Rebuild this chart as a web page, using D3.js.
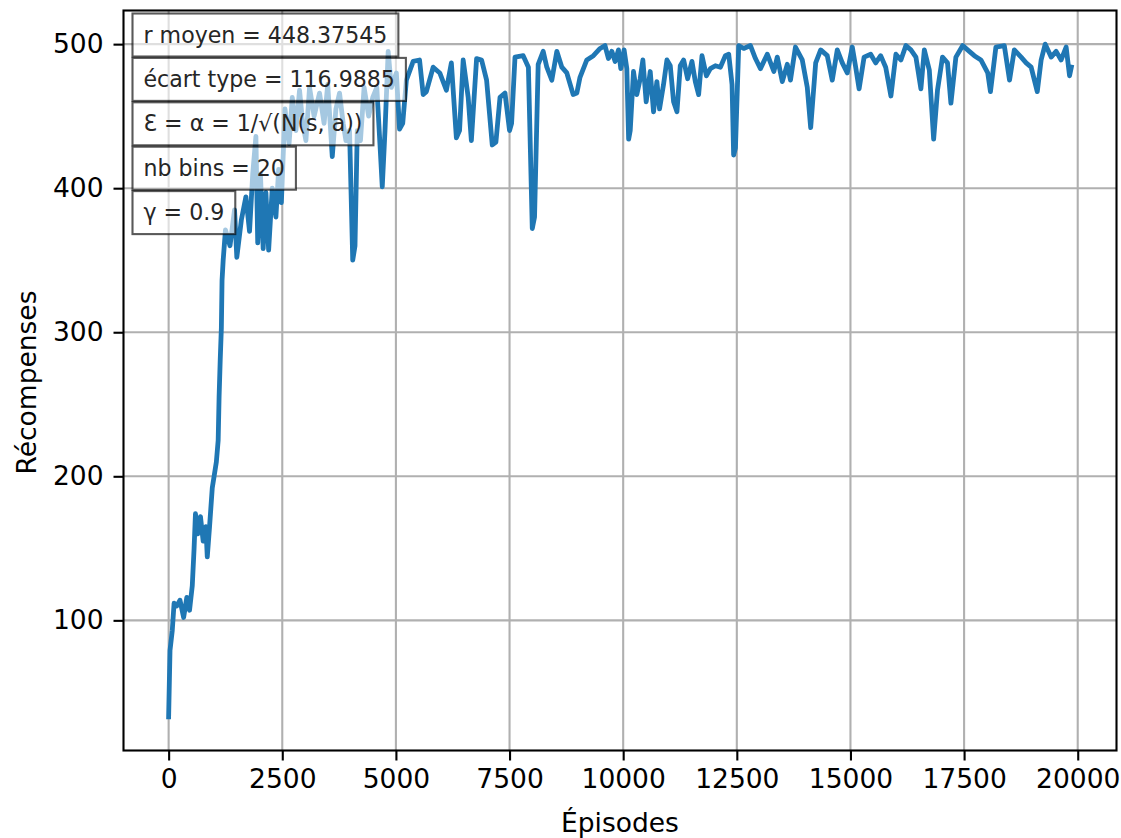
<!DOCTYPE html>
<html>
<head>
<meta charset="utf-8">
<script src="https://cdn.jsdelivr.net/npm/d3@7"></script>
<style>
    body { margin: 0; background: #fff; }
    svg text { font-family: "DejaVu Sans", sans-serif; }
</style>
</head>
<body>
<div id="chart"></div>
<script>

// episodes (x) and rewards (y)
var episodes = [0, 30, 80, 120, 180, 250, 330, 400, 460, 520,
    560, 590, 640, 700, 760, 820, 850, 900, 960, 1050,
    1090, 1110, 1135, 1160, 1175, 1200, 1250, 1350, 1450, 1500,
    1600, 1700, 1780, 1850, 1920, 1960, 2020, 2080, 2140, 2200,
    2280, 2360, 2420, 2480, 2560, 2650, 2720, 2800, 2880, 2950,
    3020, 3100, 3200, 3320, 3420, 3500, 3600, 3680, 3760, 3840,
    3900, 3980, 4050, 4100, 4150, 4220, 4300, 4400, 4490, 4580,
    4650, 4700, 4760, 4830, 4900, 5010, 5080, 5150, 5230, 5380,
    5520, 5600, 5670, 5820, 5965, 6110, 6220, 6330, 6400, 6480,
    6590, 6660, 6775, 6885, 6995, 7120, 7200, 7290, 7400, 7500,
    7545, 7620, 7800, 7915, 8000, 8050, 8130, 8240, 8320, 8430,
    8540, 8650, 8760, 8900, 8980, 9050, 9200, 9345,
    9492, 9600, 9676, 9750, 9823, 9896, 9948, 10020, 10080,
    10120, 10155, 10227, 10300, 10374, 10433, 10506, 10595, 10668, 10741, 10800,
    10888, 10962, 11036, 11109, 11183, 11256, 11330, 11418, 11513, 11587,
    11660, 11734, 11830, 11918, 12028, 12138, 12248, 12322, 12395,
    12430, 12470, 12542, 12652, 12800, 12910,
    13020, 13170, 13315, 13390, 13500, 13610, 13680, 13790, 13940, 14050,
    14125, 14235, 14345, 14490, 14600, 14710, 14820, 14930, 15040, 15115,
    15190, 15300, 15445, 15555, 15665, 15775, 15890, 16000, 16110, 16220,
    16330, 16440, 16550, 16625, 16735, 16830, 16915, 17025, 17135, 17210,
    17320, 17470, 17615, 17725, 17870, 18020, 18080, 18200, 18385, 18500,
    18605, 18755, 18865, 18975, 19110, 19195, 19285, 19415, 19525, 19635,
    19745, 19820, 19860];

var rewards = [33, 79, 93, 112, 110, 114, 102, 116, 107, 124,
    150, 174, 160, 172, 155, 165, 144, 165, 192, 210,
    225, 255, 281, 303, 336, 350, 371, 360, 385, 352,
    378, 394, 370, 410, 436, 362, 410, 358, 397, 357,
    400, 380, 413, 390, 455, 431, 463, 440, 468, 445,
    433, 470, 450, 466, 445, 472, 422, 455, 466, 445,
    433, 440, 350, 360, 440, 433, 470, 450, 463, 470,
    430, 401, 440, 495, 470, 480, 441, 445, 475, 488,
    489, 465, 467, 484, 480, 468, 487, 435, 440, 489,
    463, 433, 490, 489, 475, 430, 432, 463, 466, 440,
    445, 491, 492, 484, 372, 380, 486, 495, 484, 475,
    495, 484, 480, 465, 466, 477, 489, 492,
    497, 499, 490, 495, 488, 496, 483, 496, 483,
    434, 440, 481, 465, 476, 489, 460, 481, 453, 474, 455,
    472, 489, 485, 460, 453, 485, 489, 476, 488, 474,
    465, 492, 478, 483, 485, 484, 492, 493, 472,
    423, 428, 499, 497, 499, 490,
    483, 493, 481, 491, 474, 486, 475, 498, 489, 470,
    442, 487, 496, 492, 475, 496, 487, 480, 498, 484,
    469, 491, 493, 487, 492, 484, 464, 493, 489, 499,
    496, 491, 469, 496, 482, 434, 468, 491, 487, 459,
    491, 499, 495, 492, 489, 480, 467, 498, 499, 475,
    496, 491, 487, 484, 467, 489, 500, 491, 495, 489,
    498, 478, 484];

var xTicks = [0, 2500, 5000, 7500, 10000, 12500, 15000, 17500, 20000];
var yTicks = [100, 200, 300, 400, 500];

var infoLabels = ["r moyen = 448.37545", "écart type = 116.9885", "Ɛ = α = 1/√(N(s, a))", "nb bins = 20", "γ = 0.9"];

const W = 1121, H = 838;
const margin = {"top": 10.5, "right": 4.5, "bottom": 87.5, "left": 123.5};
const width = W - margin.left - margin.right;
const height = H - margin.top - margin.bottom;

var points = episodes.map(function(e, i) { return {x: e, y: rewards[i]}; });

// matplotlib style autoscale: data extent plus 5% on each side
function padded(ext) {
    var p = (ext[1] - ext[0]) * 0.05;
    return [ext[0] - p, ext[1] + p];
}

var x = d3.scaleLinear()
    .domain(padded(d3.extent(episodes)))
    .range([0, width]);

var y = d3.scaleLinear()
    .domain(padded(d3.extent(rewards)))
    .range([height, 0]);

var svg = d3.select("#chart").append("svg")
    .attr("width", W)
    .attr("height", H);

var g = svg.append("g")
    .attr("transform", "translate(" + margin.left + "," + margin.top + ")");

// grid
g.append("g").selectAll("line")
    .data(xTicks)
    .enter().append("line")
        .attr("x1", d => x(d)).attr("x2", d => x(d))
        .attr("y1", 0).attr("y2", height)
        .attr("stroke", "#b0b0b0")
        .attr("stroke-width", 2.1)

g.append("g").selectAll("line")
    .data(yTicks)
    .enter().append("line")
        .attr("x1", 0).attr("x2", width)
        .attr("y1", d => y(d)).attr("y2", d => y(d))
        .attr("stroke", "#b0b0b0")
        .attr("stroke-width", 2.1)

// the reward curve
var line = d3.line()
    .x(d => x(d.x))
    .y(d => y(d.y));

g.append("path")
    .datum(points)
    .attr("d", line)
    .attr("fill", "none")
    .attr("stroke", "#1f77b4")
    .attr("stroke-width", 4.8)
    .attr("stroke-linejoin", "round")
    .attr("stroke-linecap", "square")

// axes
var xAxis = g.append("g")
    .attr("transform", "translate(0," + height + ")")
    .call(d3.axisBottom(x).tickValues(xTicks).tickFormat(d3.format("d")).tickSize(10).tickPadding(9));

var yAxis = g.append("g")
    .call(d3.axisLeft(y).tickValues(yTicks).tickFormat(d3.format("d")).tickSize(10).tickPadding(10));

[xAxis, yAxis].forEach(function(a) {
    a.select(".domain").remove();
    a.selectAll(".tick line").attr("stroke", "#000").attr("stroke-width", 2.1);
    a.selectAll(".tick text")
        .attr("fill", "#000")
        .style("font-size", "26.5px")
        .style("font-family", "DejaVu Sans");
});

// frame
g.append("rect")
    .attr("x", 0).attr("y", 0)
    .attr("width", width).attr("height", height)
    .attr("fill", "none")
    .attr("stroke", "#000")
    .attr("stroke-width", 2.1)

// axis titles
svg.append("text")
    .attr("x", margin.left + width / 2)
    .attr("y", 832)
    .attr("text-anchor", "middle")
    .style("font-size", "26.5px")
    .text("Épisodes")

svg.append("text")
    .attr("transform", "translate(36," + (margin.top + height / 2 + 2) + ") rotate(-90)")
    .attr("text-anchor", "middle")
    .style("font-size", "26.5px")
    .text("Récompenses")

// parameter boxes in the upper left corner
const boxPad = 11, boxH = 43, boxStep = 44.4;

var boxes = g.selectAll(".info")
    .data(infoLabels)
    .enter().append("g")
        .attr("class", "info")
        .attr("transform", (d, i) => "translate(9," + (3 + i * boxStep) + ")");

var rects = boxes.append("rect")
    .attr("y", 0)
    .attr("height", boxH)
    .attr("fill", "#fff")
    .attr("fill-opacity", 0.6)
    .attr("stroke", "#000")
    .attr("stroke-opacity", 0.65)
    .attr("stroke-width", 2.1)

var labels = boxes.append("text")
    .attr("x", boxPad)
    .attr("y", 29)
    .attr("fill", "#262626")
    .style("font-size", "22.1px")
    .text(d => d)

labels.each(function(d, i) {
    var w = this.getComputedTextLength();
    d3.select(rects.nodes()[i]).attr("width", w + 2 * boxPad);
});

</script>
</body>
</html>
